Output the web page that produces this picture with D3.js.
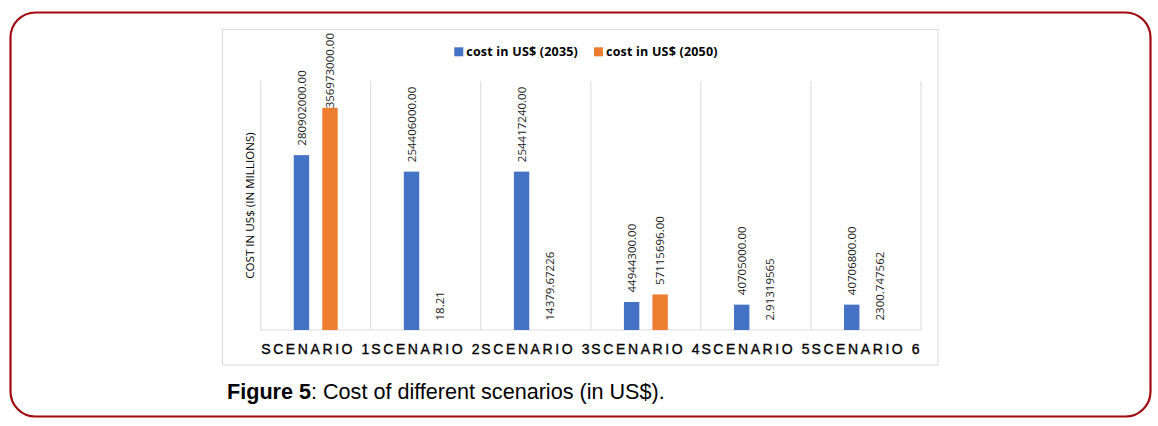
<!DOCTYPE html>
<html>
<head>
<meta charset="utf-8">
<script src="https://cdn.jsdelivr.net/npm/d3@7"></script>
<style>
  body { margin: 0; background: #fff; }
  svg { display: block; }
</style>
</head>
<body>
<div id="chart"></div>
<script>
// Chart data
const scenarios = ["SCENARIO 1", "SCENARIO 2", "SCENARIO 3", "SCENARIO 4", "SCENARIO 5", "SCENARIO 6"];
const seriesNames = ["cost in US$ (2035)", "cost in US$ (2050)"];
const cost2035 = [280902000, 254406000, 254417240, 44944300, 40705000, 40706800];
const cost2050 = [356973000, 18.21, 14379.67226, 57115696, 2.91319565, 2300.747562];
const axisMax = 400000000;

const colors = ["#4472C4", "#ED7D31"];

// label format: big numbers with 2 decimals, small ones as they are
const fmt = d => d >= 1e6 ? d.toFixed(2) : String(d);

const W = 1158, H = 426;
const plot = {left: 260.7, right: 921, top: 81, bottom: 330};

const svg = d3.select("#chart")
  .append("svg")
    .attr("width", W)
    .attr("height", H);

// Red rounded page frame
svg.append("rect")
  .attr("x", 10.5).attr("y", 12.5)
  .attr("width", 1140).attr("height", 404)
  .attr("rx", 25).attr("ry", 25)
  .attr("fill", "none")
  .attr("stroke", "#a10b0f")
  .attr("stroke-width", 2.2);

// Chart area border
svg.append("rect")
  .attr("x", 222.5).attr("y", 29.5)
  .attr("width", 715.5).attr("height", 335.5)
  .attr("fill", "#fff")
  .attr("stroke", "#d9d9d9");

// Scales
const x = d3.scaleBand()
  .domain(scenarios)
  .range([plot.left, plot.right])
  .padding(0);

const x1 = d3.scaleBand()
  .domain([0, 1])
  .range([0, x.bandwidth()])
  .paddingInner(0.46)
  .paddingOuter(1.16);

const y = d3.scaleLinear()
  .domain([0, axisMax])
  .range([plot.bottom, plot.top]);

// Vertical gridlines at category boundaries
const bounds = scenarios.map(s => x(s)).concat([plot.right]);
svg.append("g")
  .selectAll("line")
  .data(bounds)
  .enter()
  .append("line")
    .attr("x1", d => d).attr("x2", d => d)
    .attr("y1", plot.top).attr("y2", plot.bottom)
    .attr("stroke", "#d9d9d9")
    .attr("stroke-width", 1);

// Baseline
svg.append("line")
  .attr("x1", plot.left).attr("x2", plot.right)
  .attr("y1", plot.bottom).attr("y2", plot.bottom)
  .attr("stroke", "#d9d9d9");

// Bars
const rows = scenarios.map((s, i) => ({scenario: s, values: [cost2035[i], cost2050[i]]}));
const groups = svg.append("g")
  .selectAll("g")
  .data(rows)
  .enter()
  .append("g")
    .attr("transform", d => `translate(${x(d.scenario)},0)`);

groups.selectAll("rect")
  .data(d => d.values.map((v, k) => ({k, v})))
  .enter()
  .append("rect")
    .attr("x", d => x1(d.k))
    .attr("y", d => y(d.v))
    .attr("width", x1.bandwidth())
    .attr("height", d => y(0) - y(d.v))
    .attr("fill", d => colors[d.k]);

// Data labels, rotated
groups.selectAll("text")
  .data(d => d.values.map((v, k) => ({k, v})))
  .enter()
  .append("text")
    .attr("font-family", "'Open Sans', sans-serif")
    .attr("font-size", "11.5px")
    .attr("fill", "#1a1a1a")
    .attr("text-anchor", "start")
    .attr("dy", "0.35em")
    .text(d => fmt(d.v))
    .each(function(d) {
      const len = this.getComputedTextLength();
      let start = y(d.v) - 9.5;
      if (start - len < 33) start = 33 + len;  // keep inside chart area
      const cx = x1(d.k) + x1.bandwidth() / 2;
      d3.select(this).attr("transform", `translate(${cx},${start}) rotate(-90)`);
    });

// X axis labels
svg.append("g")
  .selectAll("text")
  .data(scenarios)
  .enter()
  .append("text")
    .attr("x", d => x(d) + 0.5)
    .attr("y", 353.5)
    .attr("text-anchor", "start")
    .attr("font-family", "'Liberation Sans', Arial, sans-serif")
    .attr("font-size", "14px")
    .attr("letter-spacing", "2.6px")
    .attr("fill", "#000")
    .attr("stroke", "#000")
    .attr("stroke-width", 0.35)
    .text(d => d);

// Y axis title
svg.append("text")
  .attr("transform", `translate(254,${(plot.top + plot.bottom) / 2}) rotate(-90)`)
  .attr("text-anchor", "middle")
  .attr("font-family", "'Open Sans', sans-serif")
  .attr("font-size", "11.6px")
  .attr("fill", "#000")
  .text("COST IN US$ (IN MILLIONS)");

// Legend
const legendX = [454.3, 594];
const legend = svg.append("g")
  .selectAll("g")
  .data(seriesNames)
  .enter()
  .append("g")
    .attr("transform", (d, i) => `translate(${legendX[i]},47.3)`);
legend.append("rect")
  .attr("width", 9).attr("height", 9)
  .attr("fill", (d, i) => colors[i]);
legend.append("text")
  .attr("x", 12)
  .attr("y", 8.8)
  .attr("font-family", "'Open Sans', sans-serif")
  .attr("font-size", "12.5px")
  .attr("letter-spacing", "0.2px")
  .attr("font-weight", "bold")
  .attr("fill", "#000")
  .text(d => d);

// Caption
const cap = svg.append("text")
  .attr("x", 227)
  .attr("y", 399)
  .attr("font-family", "'Liberation Sans', Arial, sans-serif")
  .attr("font-size", "21.6px")
  .attr("fill", "#000");
cap.append("tspan").attr("font-weight", "bold").text("Figure 5");
cap.append("tspan").text(": Cost of different scenarios (in US$).");
</script>
</body>
</html>
